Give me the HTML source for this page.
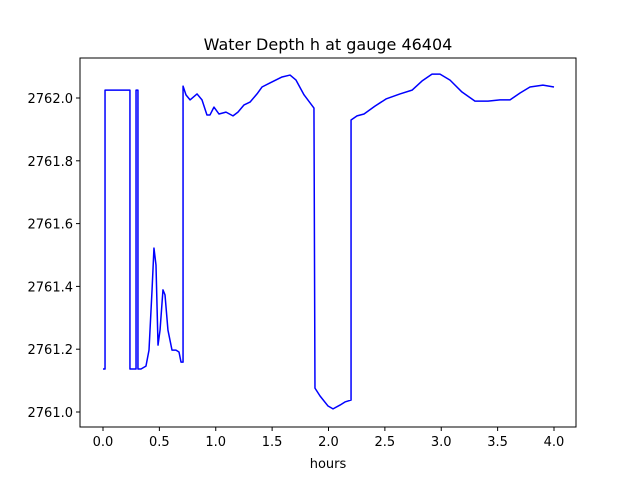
<!DOCTYPE html>
<html><head><meta charset="utf-8"><style>
body{margin:0;background:#fff;}
svg text{font-family:"DejaVu Sans","Liberation Sans",sans-serif;fill:#000;}
</style></head><body>
<svg id="chart" width="640" height="480" xmlns="http://www.w3.org/2000/svg">
<rect width="640" height="480" fill="#fff"/>
<text x="328" y="50" font-size="16" text-anchor="middle">Water Depth h at gauge 46404</text>
<g id="xticks"></g><g id="yticks"></g>
<polyline id="series" fill="none" stroke="#0000ff" stroke-width="1.5" stroke-linejoin="round"/>
<rect x="80" y="58" width="496" height="369" fill="none" stroke="#000" stroke-width="1"/>
<text x="328" y="468" font-size="13" text-anchor="middle">hours</text>
</svg>
<script>
const hours=[0,0.018,0.018,0.239,0.239,0.293,0.293,0.310,0.310,0.337,0.381,0.408,0.435,0.452,0.470,0.488,0.506,0.532,0.550,0.576,0.612,0.647,0.674,0.692,0.710,0.710,0.736,0.772,0.834,0.878,0.922,0.949,0.984,1.029,1.091,1.153,1.197,1.251,1.304,1.366,1.410,1.481,1.588,1.659,1.712,1.783,1.871,1.880,1.925,1.996,2.040,2.102,2.146,2.200,2.200,2.253,2.315,2.412,2.510,2.634,2.741,2.829,2.918,2.989,3.078,3.184,3.299,3.415,3.521,3.610,3.699,3.787,3.902,4.0];
const depth=[2761.137,2761.137,2762.025,2762.025,2761.137,2761.137,2762.025,2762.025,2761.137,2761.137,2761.146,2761.197,2761.389,2761.522,2761.468,2761.213,2761.261,2761.389,2761.373,2761.261,2761.197,2761.197,2761.191,2761.159,2761.159,2762.038,2762.010,2761.994,2762.013,2761.994,2761.946,2761.946,2761.971,2761.949,2761.955,2761.943,2761.955,2761.978,2761.987,2762.013,2762.035,2762.048,2762.067,2762.073,2762.057,2762.010,2761.968,2761.076,2761.051,2761.019,2761.010,2761.022,2761.032,2761.038,2761.930,2761.943,2761.949,2761.974,2761.997,2762.013,2762.025,2762.054,2762.076,2762.076,2762.057,2762.019,2761.990,2761.990,2761.994,2761.994,2762.016,2762.035,2762.041,2762.035];
const xTicks=[0.0,0.5,1.0,1.5,2.0,2.5,3.0,3.5,4.0];
const yTicks=[2761.0,2761.2,2761.4,2761.6,2761.8,2762.0];
const X=h=>103+112.75*h;
const Y=v=>98+(2762-v)*314;
const NS="http://www.w3.org/2000/svg";
document.getElementById('series').setAttribute('points',hours.map((h,i)=>X(h)+','+Y(depth[i])).join(' '));
const xg=document.getElementById('xticks');
xTicks.forEach(t=>{
 const l=document.createElementNS(NS,'line');
 
 
 l.setAttribute('x1',X(t));l.setAttribute('x2',X(t));l.setAttribute('y1',427);l.setAttribute('y2',431);l.setAttribute('stroke','#000');
 xg.appendChild(l);
 const tx=document.createElementNS(NS,'text');
 
 
 tx.setAttribute('x',X(t));tx.setAttribute('y',446);tx.setAttribute('font-size','13');tx.setAttribute('text-anchor','middle');
 tx.textContent=t.toFixed(1);xg.appendChild(tx);
});
const yg=document.getElementById('yticks');
yTicks.forEach(t=>{
 const l=document.createElementNS(NS,'line');
 
 
 l.setAttribute('x1',76);l.setAttribute('x2',80);l.setAttribute('y1',Y(t));l.setAttribute('y2',Y(t));l.setAttribute('stroke','#000');
 yg.appendChild(l);
 const tx=document.createElementNS(NS,'text');
 
 
 tx.setAttribute('x',73);tx.setAttribute('y',Y(t)+5);tx.setAttribute('font-size','13');tx.setAttribute('text-anchor','end');
 tx.textContent=t.toFixed(1);yg.appendChild(tx);
});
</script>
</body></html>
